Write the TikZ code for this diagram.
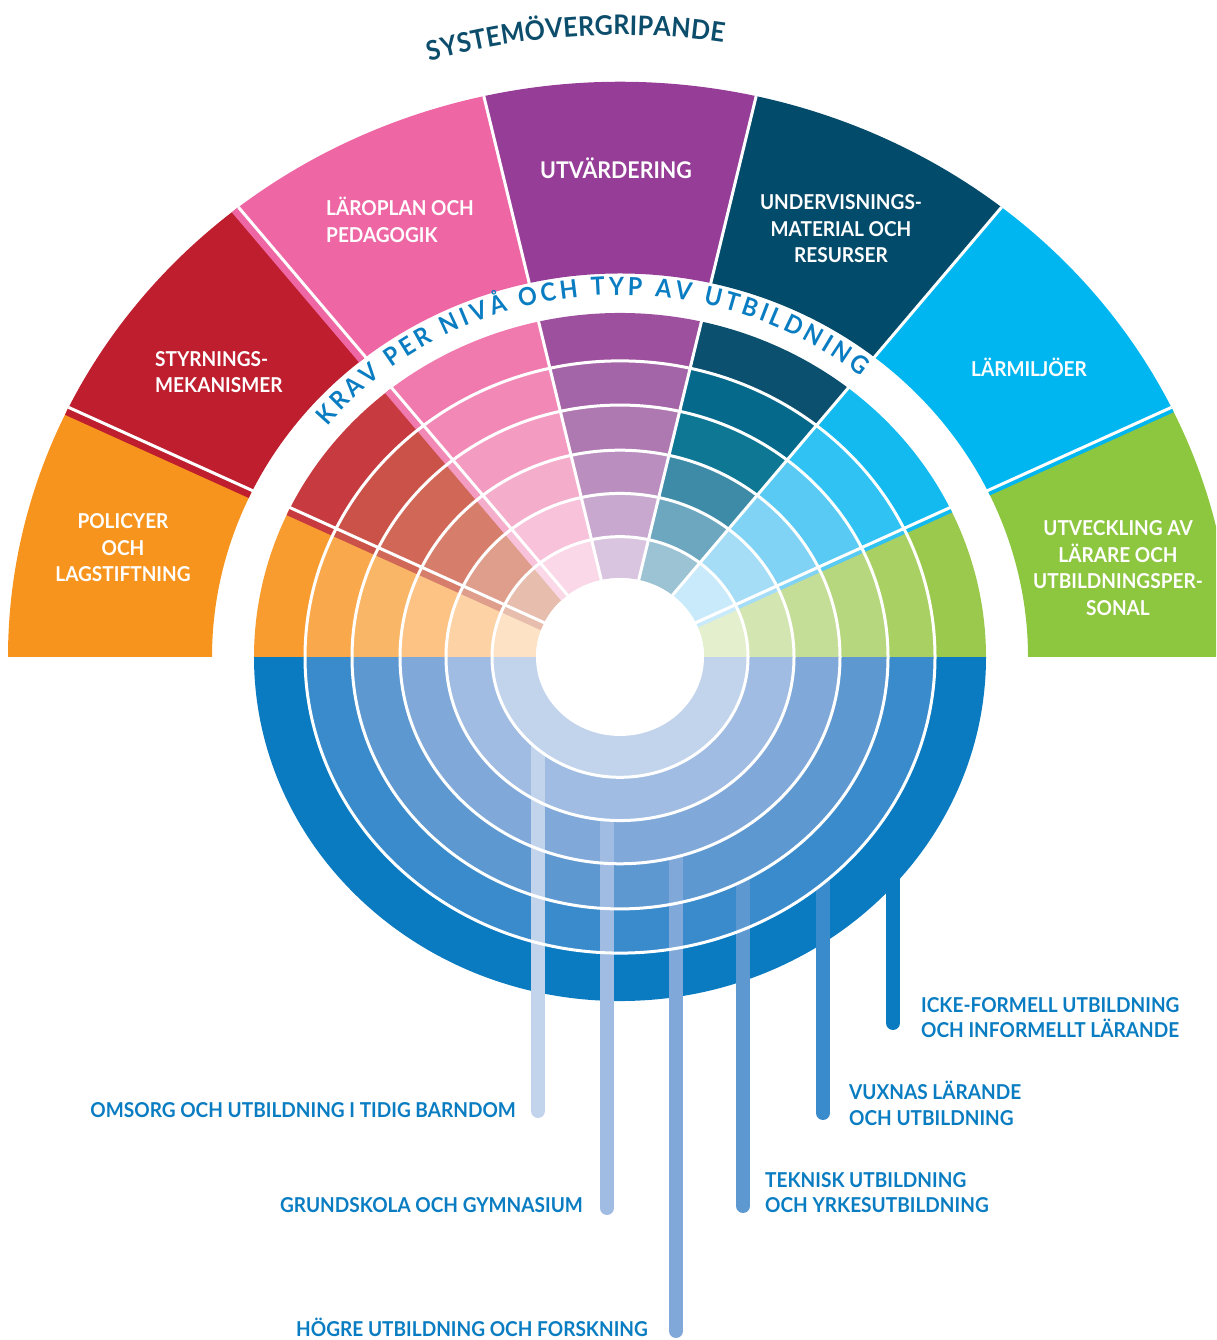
\documentclass[tikz,border=0pt]{standalone}
\usepackage{fontspec}
\setmainfont{Lato}[FakeStretch=0.93]
\usetikzlibrary{decorations.text}
% outer ring colours
\definecolor{oG}{HTML}{8DC63F}
\definecolor{oC}{HTML}{00B6F0}
\definecolor{oT}{HTML}{034B6A}
\definecolor{oP}{HTML}{963E97}
\definecolor{oK}{HTML}{EE67A4}
\definecolor{oR}{HTML}{BE1E2D}
\definecolor{oO}{HTML}{F7941D}
% fan ring colours
\definecolor{fanG0}{HTML}{9BC94D}\definecolor{fanG1}{HTML}{A8D063}\definecolor{fanG2}{HTML}{B6D77E}
\definecolor{fanG3}{HTML}{C4DE97}\definecolor{fanG4}{HTML}{D3E6B1}\definecolor{fanG5}{HTML}{E3EFCD}
\definecolor{fanC0}{HTML}{12BAF0}\definecolor{fanC1}{HTML}{30C2F2}\definecolor{fanC2}{HTML}{58CAF3}
\definecolor{fanC3}{HTML}{80D3F5}\definecolor{fanC4}{HTML}{A5DDF7}\definecolor{fanC5}{HTML}{C8EAFA}
\definecolor{fanT0}{HTML}{0B506E}\definecolor{fanT1}{HTML}{04698A}\definecolor{fanT2}{HTML}{0E7794}
\definecolor{fanT3}{HTML}{3E8BA8}\definecolor{fanT4}{HTML}{6CA7BF}\definecolor{fanT5}{HTML}{9CC3D3}
\definecolor{fanP0}{HTML}{9D509E}\definecolor{fanP1}{HTML}{A464A8}\definecolor{fanP2}{HTML}{AE78B1}
\definecolor{fanP3}{HTML}{BA8FBF}\definecolor{fanP4}{HTML}{C8A8CF}\definecolor{fanP5}{HTML}{DAC5E0}
\definecolor{fanK0}{HTML}{F07AAE}\definecolor{fanK1}{HTML}{F288B6}\definecolor{fanK2}{HTML}{F49BC2}
\definecolor{fanK3}{HTML}{F5ADCC}\definecolor{fanK4}{HTML}{F8C3DA}\definecolor{fanK5}{HTML}{FAD8E7}
\definecolor{fanR0}{HTML}{C73A3F}\definecolor{fanR1}{HTML}{CB5249}\definecolor{fanR2}{HTML}{D06757}
\definecolor{fanR3}{HTML}{D67E6B}\definecolor{fanR4}{HTML}{DE9E8B}\definecolor{fanR5}{HTML}{E7BEAD}
\definecolor{fanO0}{HTML}{F89C30}\definecolor{fanO1}{HTML}{F9A94B}\definecolor{fanO2}{HTML}{FAB667}
\definecolor{fanO3}{HTML}{FCC385}\definecolor{fanO4}{HTML}{FDD2A4}\definecolor{fanO5}{HTML}{FEE2C5}
% lower blue bands
\definecolor{B1}{HTML}{0A7BC1}
\definecolor{B2}{HTML}{3A8BCB}
\definecolor{B3}{HTML}{5E98D1}
\definecolor{B4}{HTML}{80A9DA}
\definecolor{B5}{HTML}{A0BCE2}
\definecolor{B6}{HTML}{C2D4EC}
\definecolor{kblue}{HTML}{0A7DC2}
\definecolor{ttl}{HTML}{0D4D6C}
\newcommand\secfnt{\fontsize{20.5}{26.5}\selectfont\bfseries}
\newcommand\utvfnt{\fontsize{23}{26.5}\selectfont\bfseries}
\newcommand\lowfnt{\fontsize{20.5}{25.5}\selectfont\bfseries}
\newcommand\ttlfnt{\fontsize{27}{27}\selectfont\bfseries}
\newcommand\kravfnt{\fontsize{25}{25}\selectfont\bfseries}
\begin{document}
\begin{tikzpicture}[x=1pt,y=1pt,
  seclabel/.style={text=white, font=\secfnt, inner sep=0pt},
  lowlabel/.style={text=kblue, font=\lowfnt, inner sep=0pt},
  drip/.style={line width=14pt, line cap=round},
  ringline/.style={draw=white, line width=3pt},
  sepline/.style={draw=white, line width=3pt}]
\useasboundingbox (0,0) rectangle (1216,1340);
\clip (0,0) rectangle (1216,1340);

\begin{scope}[shift={(620,683)}, yscale=0.94]
  % outer ring sectors
  \foreach \a/\c in {0/oG, 25.7143/oC, 51.4286/oT, 77.1429/oP, 102.8571/oK, 128.5714/oR, 154.2857/oO} {
    \pgfmathsetmacro\b{\a+25.7143}
    \fill[fill=\c] (\a:408) -- (\a:612) arc[start angle=\a, end angle=\b, radius=612]
      -- (\b:408) arc[start angle=\b, end angle=\a, radius=408] -- cycle;
  }
  % lower blue half discs
  \foreach \r/\c in {366/B1, 315/B2, 268/B3, 220/B4, 174/B5, 128/B6} {
    \fill[fill=\c] (0:\r) arc[start angle=0, end angle=-180, radius=\r] -- cycle;
  }
  % upper fan
  \foreach \a/\s in {0/G, 25.7143/C, 51.4286/T, 77.1429/P, 102.8571/K, 128.5714/R, 154.2857/O} {
    \pgfmathsetmacro\b{\a+25.7143}
    \foreach \i/\ri/\ro in {0/315/366, 1/268/315, 2/220/268, 3/174/220, 4/128/174, 5/84/128} {
      \fill[fill=fan\s\i] (\a:\ri) -- (\a:\ro) arc[start angle=\a, end angle=\b, radius=\ro]
        -- (\b:\ri) arc[start angle=\b, end angle=\a, radius=\ri] -- cycle;
    }
  }
  \fill[white] (0,0) circle[radius=84];
  % offset strips along some sector borders
  \foreach \i/\ri/\ro in {0/315/366, 1/268/315, 2/220/268, 3/174/220, 4/128/174, 5/84/128} {
    \draw[line width=7pt, draw=fanR\i, rotate=154.2857] (\ri,5) -- (\ro,5);
    \draw[line width=7pt, draw=fanK\i, rotate=128.5714] (\ri,5) -- (\ro,5);
    \draw[line width=4pt, draw=fanC\i, rotate=25.7143] (\ri,-3.5) -- (\ro,-3.5);
  }
  \draw[line width=7pt, draw=oR, rotate=154.2857] (408,5) -- (612,5);
  \draw[line width=7pt, draw=oK, rotate=128.5714] (408,5) -- (612,5);
  \draw[line width=4pt, draw=oC, rotate=25.7143] (408,-3.5) -- (612,-3.5);
\end{scope}

% drips from the bands down to their labels
\coordinate (d1t) at (538,599); \coordinate (d1b) at (538,229);
\coordinate (d2t) at (607,528); \coordinate (d2b) at (607,132);
\coordinate (d3t) at (676,491); \coordinate (d3b) at (676,9);
\coordinate (d4t) at (743,467); \coordinate (d4b) at (743,134);
\coordinate (d5t) at (823,465); \coordinate (d5b) at (823,227);
\coordinate (d6t) at (893,462); \coordinate (d6b) at (893,317);
\draw[drip, draw=B6] (d1t) -- (d1b);
\draw[drip, draw=B5] (d2t) -- (d2b);
\draw[drip, draw=B4] (d3t) -- (d3b);
\draw[drip, draw=B3] (d4t) -- (d4b);
\draw[drip, draw=B2] (d5t) -- (d5b);
\draw[drip, draw=B1] (d6t) -- (d6b);

\begin{scope}[shift={(620,683)}, yscale=0.94]
  \foreach \r in {128,174,220,268,315} {
    \draw[ringline] (0,0) circle[radius=\r];
  }
  \foreach \a in {25.7143, 51.4286, 77.1429, 102.8571, 128.5714, 154.2857} {
    \draw[sepline] (\a:84) -- (\a:612);
  }
\end{scope}

% curved titles
\begin{scope}[shift={(620,683)}]
  \path[decorate, decoration={text along path, text align={fit to path},
      text={|\ttlfnt\color{ttl}|SYSTEMÖVERGRIPANDE}}]
    (106.7:662 and 622) arc[start angle=106.7, end angle=81, x radius=662, y radius=622];
  \path[decorate, decoration={text along path, text align={fit to path},
      text={|\kravfnt\color{kblue}|KRAV PER NIVÅ OCH TYP AV UTBILDNING}}]
    (140.4:380 and 362) arc[start angle=140.4, end angle=50.8, x radius=380, y radius=362];
\end{scope}

% sector labels
\node[seclabel, align=center] (lpol) at (123,792) {POLICYER\\OCH\\LAGSTIFTNING};
\node[seclabel, align=left, anchor=west] (lsty) at (155,968) {STYRNINGS-\\MEKANISMER};
\node[seclabel, align=left, anchor=west] (llar) at (326,1120) {LÄROPLAN OCH\\PEDAGOGIK};
\node[seclabel, font=\utvfnt, anchor=base] (lutv) at (616,1161) {UTVÄRDERING};
\node[seclabel, align=center] (lund) at (841,1111) {UNDERVISNINGS-\\MATERIAL OCH\\RESURSER};
\node[seclabel, anchor=base] (lmil) at (1029,963) {LÄRMILJÖER};
\node[seclabel, align=center] (lutb) at (1118,772) {UTVECKLING AV\\LÄRARE OCH\\UTBILDNINGSPER-\\SONAL};

% level labels
\node[lowlabel, anchor=base east] (tomsorg) at (516,222) {OMSORG OCH UTBILDNING I TIDIG BARNDOM};
\node[lowlabel, anchor=base east] (tgrund) at (583,127) {GRUNDSKOLA OCH GYMNASIUM};
\node[lowlabel, anchor=base east] (thogre) at (648,3) {HÖGRE UTBILDNING OCH FORSKNING};
\node[lowlabel, align=left, anchor=north west] (ttek) at (765,168) {TEKNISK UTBILDNING\\OCH YRKESUTBILDNING};
\node[lowlabel, align=left, anchor=north west] (tvux) at (849,259) {VUXNAS LÄRANDE\\OCH UTBILDNING};
\node[lowlabel, align=left, anchor=north west] (tick) at (921,343) {ICKE-FORMELL UTBILDNING\\OCH INFORMELLT LÄRANDE};
\end{tikzpicture}
\end{document}
